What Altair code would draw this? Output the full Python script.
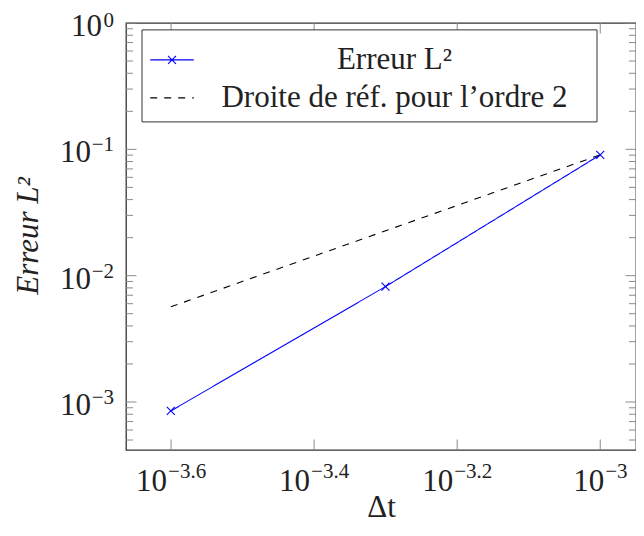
import altair as alt
import pandas as pd

# ---- data ----
S1 = "Erreur L²"
S2 = "Droite de réf. pour l’ordre 2"

dt_err = [0.000251, 0.000501, 0.001]
err_l2 = [0.00085, 0.0082, 0.0905]

dt_ref = [0.000251, 0.001]
ref_o2 = [0.00567, 0.0905]

x_ticks = [0.000251189, 0.000398107, 0.000630957, 0.001]
x_exp = ["−3.6", "−3.4", "−3.2", "−3"]
y_ticks = [0.001, 0.01, 0.1, 1.0]
y_exp = ["−3", "−2", "−1", "0"]
y_minor = [0.0005, 0.0006, 0.0007, 0.0008, 0.0009,
           0.002, 0.003, 0.004, 0.005, 0.006, 0.007, 0.008, 0.009,
           0.02, 0.03, 0.04, 0.05, 0.06, 0.07, 0.08, 0.09,
           0.2, 0.3, 0.4, 0.5, 0.6, 0.7, 0.8, 0.9]

df = pd.concat([
    pd.DataFrame({"dt": dt_err, "err": err_l2, "serie": S1}),
    pd.DataFrame({"dt": dt_ref, "err": ref_o2, "serie": S2}),
])
df_pts = pd.DataFrame({"dt": dt_err, "err": err_l2})
xt = pd.DataFrame({"v": x_ticks, "e": x_exp})
yt = pd.DataFrame({"v": y_ticks, "e": y_exp})
ym = pd.DataFrame({"v": y_minor})

# ---- style ----
W, H = 510, 427
F = "Liberation Serif"
TC = "#222222"
TICK = "#8a8a8a"
BLUE = "#0000ff"

xs = alt.Scale(type="log", domain=[10 ** -3.663, 10 ** -2.95], nice=False)
ys = alt.Scale(type="log", domain=[10 ** -3.38, 1.0], nice=False)

# legend symbols: a line sample (with a x marker for the error curve);
# the trailing move-to only widens the legend frame like the reference's box
SYM_ERR = "M-1,0H1M-0.18,-0.18L0.18,0.18M-0.18,0.18L0.18,-0.18M19,0"
SYM_REF = "M-1,0H1M19,0"
leg = alt.Legend(
    title=None, orient="none", legendX=15.5, legendY=6.4, direction="vertical",
    fillColor="white", strokeColor="#333333", padding=8, cornerRadius=0,
    labelFont=F, labelFontSize=31, labelColor=TC, labelAlign="center",
    labelOffset=200, labelLimit=0,
    symbolType=alt.expr(
        "datum.value === '" + S1 + "' ? '" + SYM_ERR + "' : '" + SYM_REF + "'"
    ),
    symbolSize=1900, symbolStrokeWidth=1.1, rowPadding=0,
)

xaxis = alt.Axis(title="Δt", labels=False, ticks=False, domain=False, grid=False,
                 titleFont=F, titleFontSize=31, titleFontWeight="normal",
                 titleColor=TC, titleX=W / 2, titleY=66, titleBaseline="alphabetic",
                 titleAlign="center")
yaxis = alt.Axis(title="Erreur L²", labels=False, ticks=False, domain=False, grid=False,
                 titleFont=F, titleFontSize=31, titleFontWeight="normal",
                 titleFontStyle="italic", titleColor=TC, titleX=-89, titleY=H / 2 - 1,
                 titleAngle=270, titleBaseline="alphabetic", titleAlign="center")

X = lambda f: alt.X(f, scale=xs, axis=xaxis)
Y = lambda f: alt.Y(f, scale=ys, axis=yaxis)

lines = alt.Chart(df).mark_line(strokeWidth=1.1).encode(
    x=X("dt:Q"),
    y=Y("err:Q"),
    color=alt.Color("serie:N", scale=alt.Scale(domain=[S1, S2], range=[BLUE, "#000000"]), legend=leg),
    strokeDash=alt.StrokeDash("serie:N", scale=alt.Scale(domain=[S1, S2], range=[[1, 0], [7, 7]]), legend=leg),
)

pts = alt.Chart(df_pts).mark_point(
    shape="M-1,-1L1,1M-1,1L1,-1", size=64, filled=False, strokeWidth=1.1, color=BLUE, opacity=1
).encode(x=X("dt:Q"), y=Y("err:Q"))

# ---- inward ticks (pgfplots style) ----
def xrule(y0, y1):
    return alt.Chart(xt).mark_rule(color=TICK, strokeWidth=1).encode(
        x=X("v:Q"), y=alt.value(y0), y2=alt.value(y1))

def yrule(data, x0, x1):
    return alt.Chart(data).mark_rule(color=TICK, strokeWidth=1).encode(
        y=Y("v:Q"), x=alt.value(x0), x2=alt.value(x1))

ticks = [
    xrule(H, H - 10.5), xrule(0, 10.5),
    yrule(yt, 0, 10.5), yrule(yt, W, W - 10.5),
    yrule(ym, 0, 7), yrule(ym, W, W - 7),
]

# ---- tick labels 10^e ----
long_x = "length(datum.e) > 2"
short_x = "length(datum.e) <= 2"

def xbase(cond, dx):
    return alt.Chart(xt).transform_filter(cond).mark_text(
        text="10", font=F, fontSize=31, color=TC, align="right", baseline="alphabetic", dx=dx
    ).encode(x=X("v:Q"), y=alt.value(H + 41))

def xexp(cond, dx):
    return alt.Chart(xt).transform_filter(cond).mark_text(
        font=F, fontSize=21, color=TC, align="left", baseline="alphabetic", dx=dx
    ).encode(x=X("v:Q"), y=alt.value(H + 28), text="e:N")

def ybase(cond, xpos):
    return alt.Chart(yt).transform_filter(cond).mark_text(
        text="10", font=F, fontSize=31, color=TC, align="right", baseline="alphabetic", dy=13
    ).encode(y=Y("v:Q"), x=alt.value(xpos))

def yexp(cond, dy):
    return alt.Chart(yt).transform_filter(cond).mark_text(
        font=F, fontSize=21, color=TC, align="right", baseline="alphabetic", dy=dy
    ).encode(y=Y("v:Q"), x=alt.value(-12), text="e:N")

is_top = "datum.e === '0'"
not_top = "datum.e !== '0'"

labels = [
    xbase(long_x, -4), xexp(long_x, -3),
    xbase(short_x, 4), xexp(short_x, 5),
    ybase(is_top, -24), ybase(not_top, -35),
    yexp(is_top, 4), yexp(not_top, 2),
]

chart = alt.layer(lines, pts, *ticks, *labels).properties(
    width=W, height=H, autosize="none",
    padding={"left": 118, "top": 15, "right": 0, "bottom": 72},
).configure_view(stroke="#333333", strokeWidth=1.3)

chart.save("out.html", embed_options={"renderer": "svg", "actions": False})
